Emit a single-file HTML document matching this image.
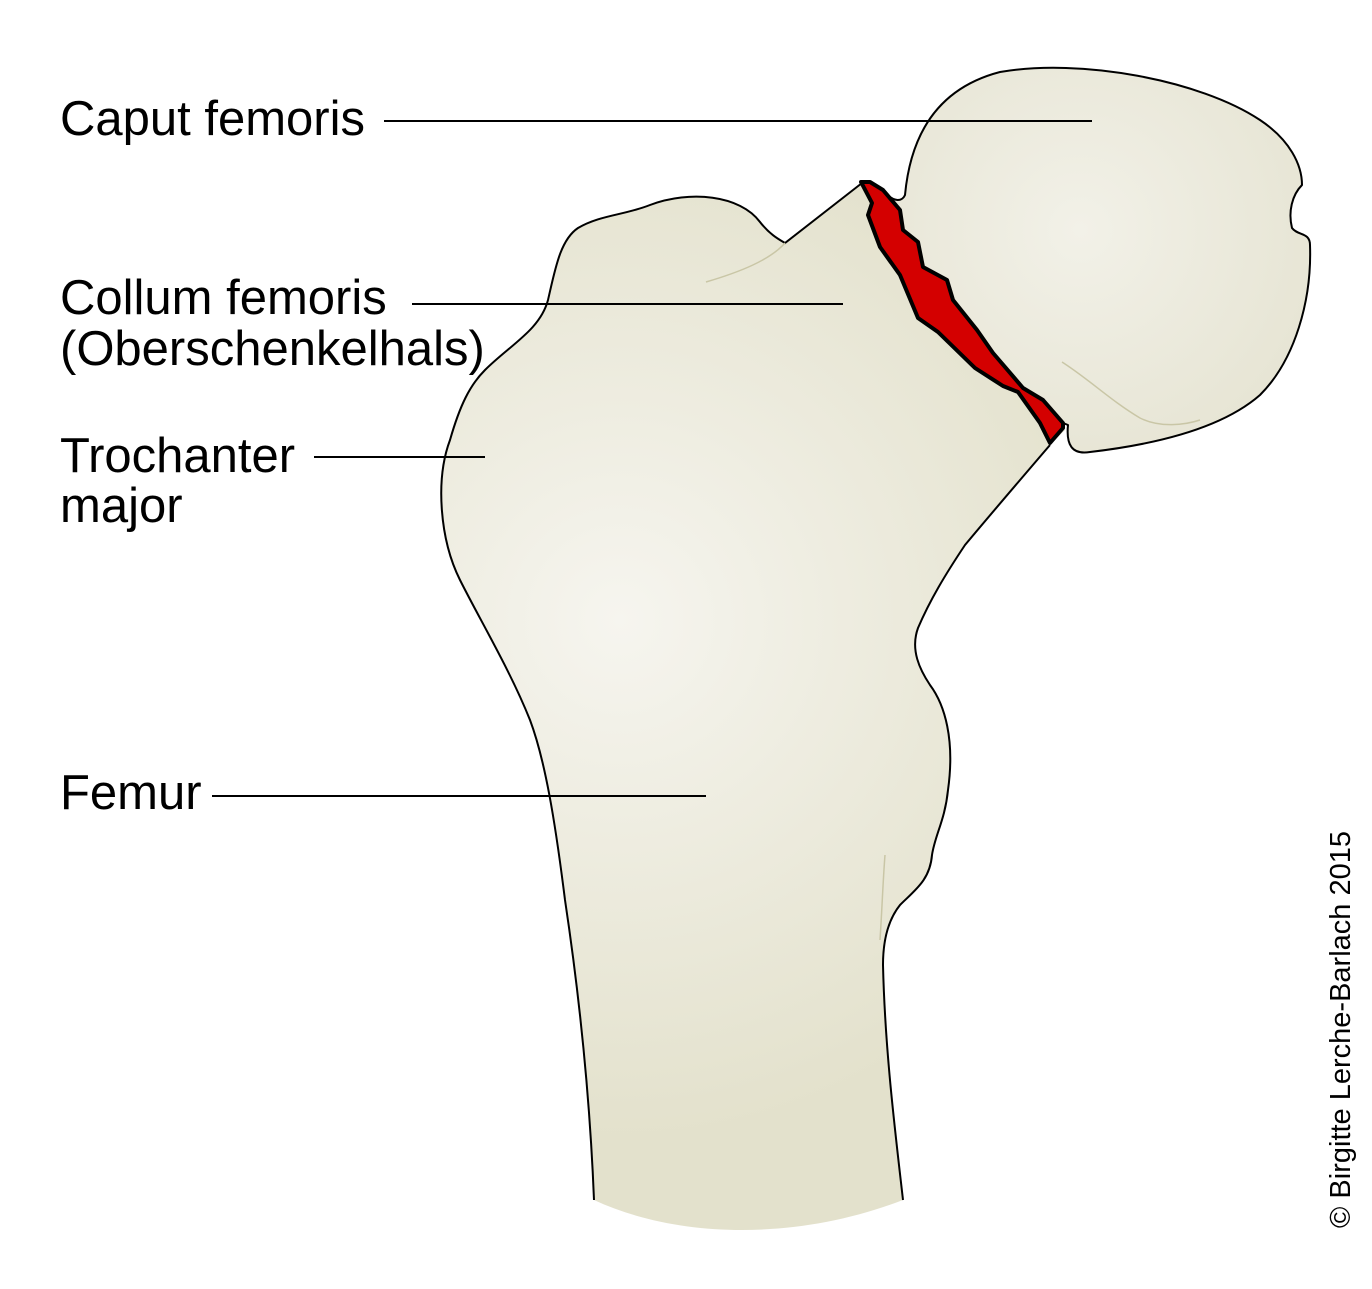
<!DOCTYPE html>
<html><head><meta charset="utf-8"><style>
html,body{margin:0;padding:0;background:#fff}
svg{display:block}
text{font-family:"Liberation Sans",Arial,sans-serif;fill:#000}
</style></head><body>
<svg width="1372" height="1289" viewBox="0 0 1372 1289">
<defs>
<radialGradient id="g" cx="620" cy="620" r="520" gradientUnits="userSpaceOnUse">
<stop offset="0" stop-color="#f6f5ef"/><stop offset="1" stop-color="#e3e1cc"/>
</radialGradient>
<radialGradient id="h" cx="1080" cy="230" r="260" gradientUnits="userSpaceOnUse">
<stop offset="0" stop-color="#f2f1e8"/><stop offset="1" stop-color="#e6e4d3"/>
</radialGradient>
</defs>
<path d="M594,1200 C590,1100 580,1000 565,900 C555,820 545,760 530,720 C510,670 480,620 460,580 C440,540 435,480 450,440 C460,405 470,385 485,370 C510,345 540,330 548,300 C555,270 560,240 578,228 C600,215 625,215 650,205 C690,190 740,195 760,222 C770,235 780,240 785,243 L862,183 L880,190 L1065,430 L1050,445 C1020,480 990,515 965,545 C945,575 930,600 918,628 C910,650 920,670 930,685 C945,705 955,740 948,790 C945,820 935,835 932,855 C930,880 915,890 900,905 C888,920 883,940 883,965 C885,1050 895,1130 903,1200 C800,1240 680,1240 594,1200 Z" fill="url(#g)"/>
<path d="M594,1200 C590,1100 580,1000 565,900 C555,820 545,760 530,720 C510,670 480,620 460,580 C440,540 435,480 450,440 C460,405 470,385 485,370 C510,345 540,330 548,300 C555,270 560,240 578,228 C600,215 625,215 650,205 C690,190 740,195 760,222 C770,235 780,240 785,243 L862,183" fill="none" stroke="#000" stroke-width="2"/>
<path d="M1050,445 C1020,480 990,515 965,545 C945,575 930,600 918,628 C910,650 920,670 930,685 C945,705 955,740 948,790 C945,820 935,835 932,855 C930,880 915,890 900,905 C888,920 883,940 883,965 C885,1050 895,1130 903,1200" fill="none" stroke="#000" stroke-width="2"/>
<path d="M706,282 C740,272 770,260 785,243" fill="none" stroke="#c9c6a6" stroke-width="1.5"/>
<path d="M885,855 C883,880 882,910 880,940" fill="none" stroke="#c9c6a6" stroke-width="1.5"/>
<path d="M883,190 C895,205 903,200 905,195 C912,120 950,85 1000,72 C1080,58 1200,80 1260,120 C1290,140 1302,165 1302,185 C1292,195 1288,212 1292,228 C1298,236 1310,232 1310,245 C1312,300 1295,360 1260,395 C1220,430 1150,445 1090,452 C1072,455 1066,445 1068,425 L1063,423 L1043,400 L1023,388 L993,353 L977,330 L953,300 L947,280 L923,267 L918,242 L903,230 L900,210 Z" fill="url(#h)" stroke="#000" stroke-width="2" stroke-linejoin="round"/>
<path d="M1062,362 C1090,380 1110,400 1140,418 C1160,428 1185,425 1200,420" fill="none" stroke="#c9c6a6" stroke-width="1.5"/>
<path d="M861,182 L872,203 L868,215 L880,247 L900,275 L918,318 L938,332 L975,368 L1003,386 L1018,392 L1040,423 L1050,443 L1063,428 L1063,423 L1043,400 L1023,388 L993,353 L977,330 L953,300 L947,280 L923,267 L918,242 L903,230 L900,210 L883,190 L870,182 Z" fill="#d40000" stroke="#000" stroke-width="4" stroke-linejoin="round"/>
<g font-size="49">
<text x="60" y="135">Caput femoris</text>
<text x="60" y="314">Collum femoris</text>
<text x="60" y="365">(Oberschenkelhals)</text>
<text x="60" y="472">Trochanter</text>
<text x="60" y="522">major</text>
<text x="60" y="809">Femur</text>
</g>
<g stroke="#000" stroke-width="2">
<line x1="384" y1="121" x2="1092" y2="121"/>
<line x1="412" y1="304" x2="843" y2="304"/>
<line x1="314" y1="457" x2="485" y2="457"/>
<line x1="212" y1="796" x2="706" y2="796"/>
</g>
<text transform="translate(1350,1228) rotate(-90)" font-size="29">© Birgitte Lerche-Barlach 2015</text>
</svg>
</body></html>
